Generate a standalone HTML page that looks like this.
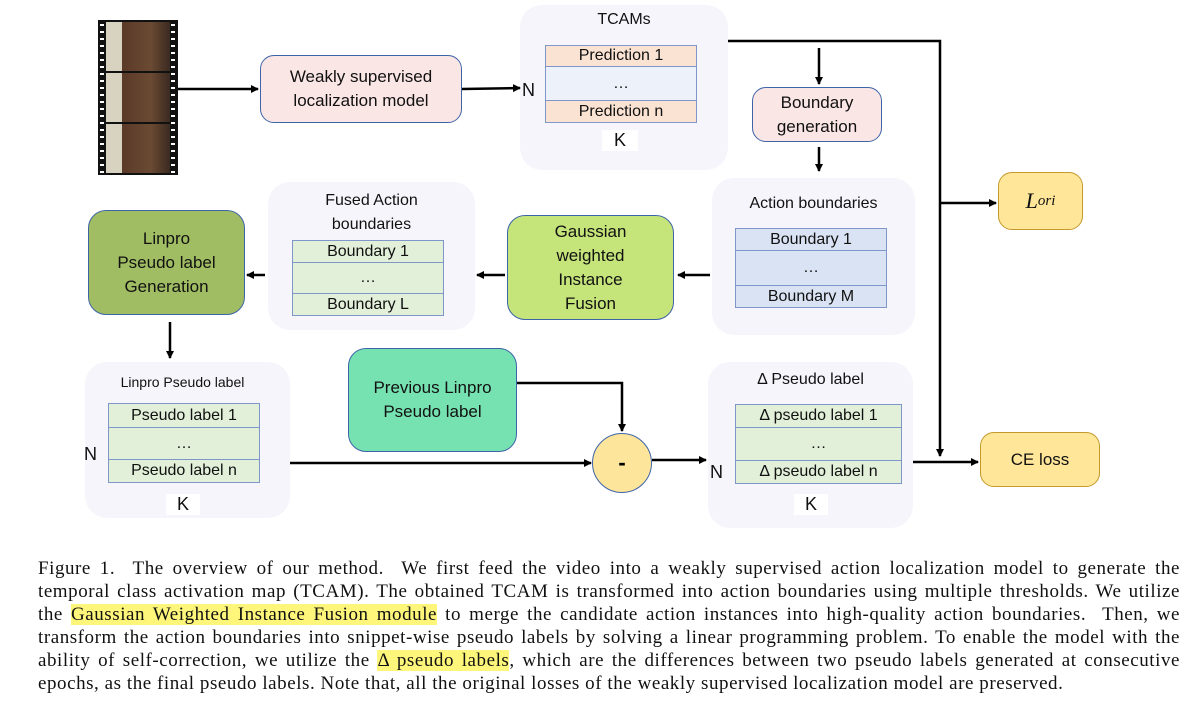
<!DOCTYPE html><html><head><meta charset="utf-8"><style>
body{margin:0;width:1187px;height:707px;background:#fff;position:relative;font-family:"Liberation Sans",sans-serif;overflow:hidden}
.a{position:absolute;box-sizing:border-box}
.c{background:#f7f5fc;border-radius:22px}
.b{border:1.5px solid #3e64a8;border-radius:14px;display:flex;align-items:center;justify-content:center;text-align:center;font-size:17px;line-height:24px;color:#111}
.r{border:1.5px solid #7f97c8;display:flex;align-items:center;justify-content:center;font-size:16px;color:#111}
.t{font-size:16px;color:#111;text-align:center}
.cap{position:absolute;left:38px;top:557px;width:1142px;font-family:"Liberation Serif",serif;font-size:19px;letter-spacing:0.55px;line-height:23px;color:#111}
.cap div{text-align:justify;text-align-last:justify;white-space:nowrap;overflow:visible}
.cap div.l{text-align-last:left}
.hl{background:#fdf67a}
</style></head><body>
<div class="a" style="left:98px;top:20px;width:80px;height:155px;background:#111"></div>
<div class="a" style="left:106px;top:22px;width:64px;height:49px;background:linear-gradient(90deg,#d8d2c0 25%,#5a3a28 25%,#6b4a33 70%,#3a2a20)"></div>
<div class="a" style="left:106px;top:73px;width:64px;height:49px;background:linear-gradient(90deg,#d8d2c0 25%,#5a3a28 25%,#6b4a33 70%,#3a2a20)"></div>
<div class="a" style="left:106px;top:124px;width:64px;height:49px;background:linear-gradient(90deg,#d8d2c0 25%,#5a3a28 25%,#6b4a33 70%,#3a2a20)"></div>
<div class="a" style="left:100px;top:24px;width:4px;height:150px;background:repeating-linear-gradient(#fff 0 2px,transparent 2px 7px)"></div>
<div class="a" style="left:171px;top:24px;width:4px;height:150px;background:repeating-linear-gradient(#fff 0 2px,transparent 2px 7px)"></div>

<div class="a b" style="left:260px;top:55px;width:202px;height:68px;background:#fbe6e6">Weakly supervised<br>localization model</div>

<div class="a c" style="left:520px;top:5px;width:208px;height:165px"></div>
<div class="a t" style="left:520px;top:11px;width:208px">TCAMs</div>
<div class="a r" style="left:545px;top:45px;width:152px;height:22px;background:#fbe3d3">Prediction 1</div>
<div class="a r" style="left:545px;top:66px;width:152px;height:35px;background:#edf1fa">…</div>
<div class="a r" style="left:545px;top:100px;width:152px;height:23px;background:#fbe3d3">Prediction n</div>
<div class="a t" style="left:522px;top:80px;font-size:18px">N</div>
<div class="a t" style="left:602px;top:130px;width:36px;font-size:18px;background:#fff">K</div>

<div class="a b" style="left:752px;top:87px;width:130px;height:55px;background:#fbe6e6">Boundary<br>generation</div>

<div class="a c" style="left:712px;top:178px;width:203px;height:157px"></div>
<div class="a t" style="left:712px;top:195px;width:203px">Action boundaries</div>
<div class="a r" style="left:735px;top:228px;width:152px;height:23px;background:#dae3f3">Boundary 1</div>
<div class="a r" style="left:735px;top:250px;width:152px;height:36px;background:#dae3f3">…</div>
<div class="a r" style="left:735px;top:285px;width:152px;height:23px;background:#dae3f3">Boundary M</div>

<div class="a b" style="left:507px;top:215px;width:167px;height:105px;background:#c5e47a;border-radius:18px">Gaussian<br>weighted<br>Instance<br>Fusion</div>

<div class="a c" style="left:268px;top:182px;width:207px;height:148px"></div>
<div class="a t" style="left:268px;top:189px;width:207px;line-height:24px">Fused Action<br>boundaries</div>
<div class="a r" style="left:292px;top:240px;width:152px;height:23px;background:#e2f0d9">Boundary 1</div>
<div class="a r" style="left:292px;top:262px;width:152px;height:32px;background:#e2f0d9">…</div>
<div class="a r" style="left:292px;top:293px;width:152px;height:23px;background:#e2f0d9">Boundary L</div>

<div class="a b" style="left:88px;top:210px;width:157px;height:105px;background:#a1bd63;border-radius:18px">Linpro<br>Pseudo label<br>Generation</div>

<div class="a c" style="left:85px;top:362px;width:205px;height:156px"></div>
<div class="a t" style="left:85px;top:374px;width:195px;font-size:14px">Linpro Pseudo label</div>
<div class="a r" style="left:108px;top:403px;width:152px;height:25px;background:#e2f0d9">Pseudo label 1</div>
<div class="a r" style="left:108px;top:427px;width:152px;height:33px;background:#e2f0d9">…</div>
<div class="a r" style="left:108px;top:459px;width:152px;height:24px;background:#e2f0d9">Pseudo label n</div>
<div class="a t" style="left:84px;top:444px;font-size:18px">N</div>
<div class="a t" style="left:166px;top:494px;width:34px;font-size:18px;background:#fff">K</div>

<div class="a b" style="left:348px;top:348px;width:169px;height:104px;background:#76e2b2;border-radius:18px">Previous Linpro<br>Pseudo label</div>

<div class="a" style="left:592px;top:433px;width:60px;height:60px;border-radius:50%;background:#fde59b;border:1.5px solid #3e64a8;display:flex;align-items:center;justify-content:center;font-size:22px;font-weight:bold">-</div>

<div class="a c" style="left:708px;top:362px;width:205px;height:166px"></div>
<div class="a t" style="left:708px;top:371px;width:205px">Δ Pseudo label</div>
<div class="a r" style="left:735px;top:404px;width:167px;height:24px;background:#e2f0d9">Δ pseudo label 1</div>
<div class="a r" style="left:735px;top:427px;width:167px;height:34px;background:#e2f0d9">…</div>
<div class="a r" style="left:735px;top:460px;width:167px;height:24px;background:#e2f0d9">Δ pseudo  label n</div>
<div class="a t" style="left:710px;top:462px;font-size:18px">N</div>
<div class="a t" style="left:794px;top:494px;width:34px;font-size:18px;background:#fff">K</div>

<div class="a b" style="left:998px;top:172px;width:85px;height:58px;background:#ffe699;border-color:#c49a2c;font-family:'Liberation Serif',serif;font-style:italic;font-size:22px">L<sub style="font-size:15px">ori</sub></div>
<div class="a b" style="left:980px;top:432px;width:120px;height:55px;background:#ffe699;border-color:#c49a2c">CE loss</div>

<svg class="a" style="left:0;top:0" width="1187" height="540">
<defs><marker id="m" markerWidth="8" markerHeight="8" refX="7" refY="4" orient="auto" markerUnits="userSpaceOnUse"><path d="M0,0L8,4L0,8z" fill="#000"/></marker></defs>
<g stroke="#000" stroke-width="2.5" fill="none" marker-end="url(#m)">
<line x1="178" y1="89" x2="258" y2="89"/>
<line x1="462" y1="89" x2="520" y2="88"/>
<line x1="819" y1="48" x2="819" y2="84"/>
<line x1="819" y1="147" x2="819" y2="171"/>
<line x1="710" y1="275" x2="678" y2="275"/>
<line x1="505" y1="275" x2="477" y2="275"/>
<line x1="265" y1="275" x2="247" y2="275"/>
<line x1="170" y1="322" x2="170" y2="358"/>
<line x1="290" y1="463" x2="591" y2="463"/>
<polyline points="517,383 622,383 622,431"/>
<line x1="652" y1="460" x2="706" y2="460"/>
<line x1="913" y1="462" x2="978" y2="462"/>
<polyline points="728,41 940,41 940,456"/>
<line x1="940" y1="203" x2="996" y2="203"/>
</g></svg>

<div class="cap">
<div>Figure 1.&nbsp; The overview of our method.&nbsp; We first feed the video into a weakly supervised action localization model to generate the</div>
<div>temporal class activation map (TCAM). The obtained TCAM is transformed into action boundaries using multiple thresholds. We utilize</div>
<div>the <span class="hl">Gaussian Weighted Instance Fusion module</span> to merge the candidate action instances into high-quality action boundaries.&nbsp; Then, we</div>
<div>transform the action boundaries into snippet-wise pseudo labels by solving a linear programming problem. To enable the model with the</div>
<div>ability of self-correction, we utilize the <span class="hl">Δ pseudo labels</span>, which are the differences between two pseudo labels generated at consecutive</div>
<div class="l">epochs, as the final pseudo labels. Note that, all the original losses of the weakly supervised localization model are preserved.</div>
</div>
</body></html>
